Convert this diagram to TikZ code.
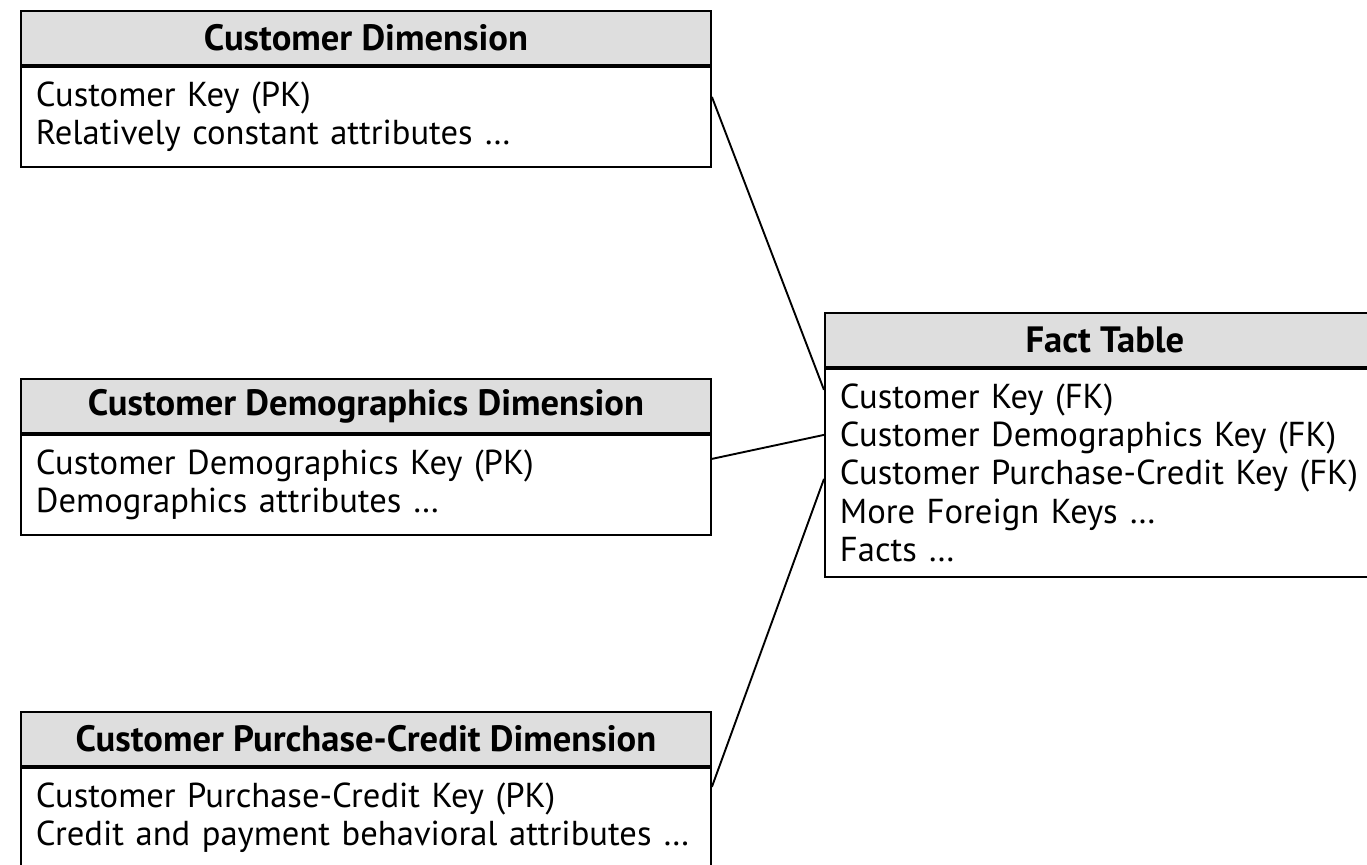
\documentclass[tikz,border=0pt]{standalone}
\usepackage{fontspec}
\setmainfont{PT Sans}
\usetikzlibrary{positioning}
\definecolor{headgray}{RGB}{222,222,222}

\begin{document}
\begin{tikzpicture}
[
	              x = 0.5pt,
	              y = -0.5pt,
	     line width = 0.95pt,
	  node distance = 0pt,
	    head/.style = { draw, fill=headgray, anchor=north west, minimum height=27pt,
	                    font=\fontsize{18.3}{19}\selectfont\bfseries },
	    body/.style = { draw, align=left, inner xsep=7.5pt,
	                    font=\fontsize{17.3}{19.1}\selectfont },
	     dim/.style = { minimum width=345pt },
	 dimbody/.style = { text width=330pt, minimum height=50pt }
]
	\useasboundingbox (0,0) rectangle (1367,865);

	% dimension tables
	% nodes
	\node (cust)   at (20,10)  [head, dim] {Customer Dimension};
	\node (custB)  [body, dimbody, below=of cust]
		{Customer Key (PK)\\Relatively constant attributes \ldots};

	\node (demo)   at (20,378) [head, dim] {Customer Demographics Dimension};
	\node (demoB)  [body, dimbody, below=of demo]
		{Customer Demographics Key (PK)\\Demographics attributes \ldots};

	\node (purch)  at (20,711) [head, dim] {Customer Purchase-Credit Dimension};
	\node (purchB) [body, dimbody, below=of purch]
		{Customer Purchase-Credit Key (PK)\\Credit and payment behavioral attributes \ldots};

	% fact table
	% nodes
	\node (fact)   at (824,312) [head, minimum width=280pt] {Fact Table};
	\node (factB)  [body, below=of fact, text width=265pt, minimum height=104pt]
		{Customer Key (FK)\\Customer Demographics Key (FK)\\Customer Purchase-Credit Key (FK)\\More Foreign Keys \ldots\\Facts \ldots};

	% edges
	\draw ([yshift=-15.5pt]custB.north east)  -- ([yshift=-11pt]factB.north west);
	\draw ([yshift=-12.5pt]demoB.north east)  -- ([yshift=-33.5pt]factB.north west);
	\draw ([yshift=-10pt]purchB.north east)   -- ([yshift=-55.5pt]factB.north west);
\end{tikzpicture}
\end{document}
